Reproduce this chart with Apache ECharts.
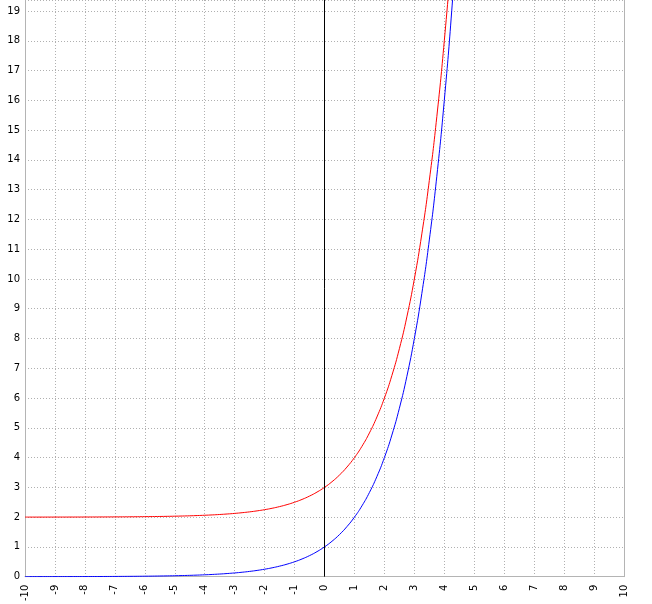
<!DOCTYPE html>
<html>
<head>
<meta charset="utf-8">
<script src="https://cdn.jsdelivr.net/npm/echarts@6/dist/echarts.min.js"></script>
<style>html,body{margin:0;padding:0;background:#fff;overflow:hidden}#c{position:fixed;left:0;top:0;width:652px;height:604px}</style>
</head>
<body>
<div id="c"></div>
<script>
var xValues = [-10,-9.75,-9.5,-9.25,-9,-8.75,-8.5,-8.25,-8,-7.75,-7.5,-7.25,-7,-6.75,-6.5,-6.25,-6,-5.75,-5.5,-5.25,-5,-4.75,-4.5,-4.25,-4,-3.75,-3.5,-3.25,-3,-2.75,-2.5,-2.25,-2,-1.75,-1.5,-1.25,-1,-0.75,-0.5,-0.25,0,0.25,0.5,0.75,1,1.25,1.5,1.75,2,2.25,2.5,2.75,3,3.25,3.5,3.75,4,4.25,4.5];
var blueValues = [0.001,0.0012,0.0014,0.0016,0.002,0.0023,0.0028,0.0033,0.0039,0.0046,0.0055,0.0066,0.0078,0.0093,0.011,0.013,0.0156,0.0186,0.0221,0.0263,0.0313,0.0372,0.0442,0.0526,0.0625,0.0743,0.0884,0.1051,0.125,0.1487,0.1768,0.2102,0.25,0.2973,0.3536,0.4204,0.5,0.5946,0.7071,0.8409,1,1.189,1.414,1.682,2,2.378,2.828,3.364,4,4.757,5.657,6.727,8,9.514,11.31,13.45,16,19.03,22.63];
var redValues = [2.001,2.0012,2.0014,2.0016,2.002,2.0023,2.0028,2.0033,2.0039,2.0046,2.0055,2.0066,2.0078,2.0093,2.011,2.013,2.0156,2.0186,2.0221,2.0263,2.0313,2.0372,2.0442,2.0526,2.0625,2.0743,2.0884,2.1051,2.125,2.1487,2.1768,2.2102,2.25,2.2973,2.3536,2.4204,2.5,2.5946,2.7071,2.8409,3,3.189,3.414,3.682,4,4.378,4.828,5.364,6,6.757,7.657,8.727,10,11.514,13.31,15.45,18,21.03,24.63];
var xMin = -10, xMax = 10, yMin = 0, yMax = 19.37;

function pairs(xs, ys){ return xs.map(function(x,i){ return [x, ys[i]]; }); }

var chart = echarts.init(document.getElementById('c'), null, {renderer:'canvas'});
var font = 'DejaVu Sans';
chart.setOption({
  animation: false,
  backgroundColor: '#ffffff',
  grid: {left: 25, right: 28, top: 0, bottom: 24, containLabel: false},
  xAxis: {
    type: 'value', min: xMin, max: xMax, interval: 1,
    axisLine: {show: true, onZero: false, lineStyle: {color: '#b4b4b4', width: 1}},
    axisTick: {show: false},
    axisLabel: {rotate: 90, fontFamily: font, fontSize: 10, color: '#000', margin: 8, showMinLabel: true, showMaxLabel: true},
    splitLine: {show: true, lineStyle: {color: '#b0b0b0', type: [1, 2], width: 1}}
  },
  yAxis: [{
    type: 'value', min: yMin, max: yMax, interval: 1,
    axisLine: {show: true, onZero: false, lineStyle: {color: '#b4b4b4', width: 1}},
    axisTick: {show: false},
    axisLabel: {fontFamily: font, fontSize: 10, color: '#000', margin: 5, showMaxLabel: false},
    splitLine: {show: true, lineStyle: {color: '#b0b0b0', type: [1, 2], width: 1}}
  }, {
    type: 'value', min: yMin, max: yMax, interval: 1, position: 'right',
    axisLine: {show: true, onZero: false, lineStyle: {color: '#b4b4b4', width: 1}},
    axisTick: {show: false}, axisLabel: {show: false}, splitLine: {show: false}
  }],
  series: [{
    type: 'line', data: pairs(xValues, redValues), showSymbol: false, smooth: true,
    lineStyle: {color: '#ff0000', width: 1}, itemStyle: {color: '#ff0000'}, clip: true, z: 3,
    markLine: {silent: true, symbol: 'none', label: {show: false},
      lineStyle: {color: '#000', type: 'solid', width: 1}, data: [{xAxis: 0}]}
  }, {
    type: 'line', data: pairs(xValues, blueValues), showSymbol: false, smooth: true,
    lineStyle: {color: '#0000ff', width: 1}, itemStyle: {color: '#0000ff'}, clip: true, z: 3
  }]
});
</script>
</body>
</html>
